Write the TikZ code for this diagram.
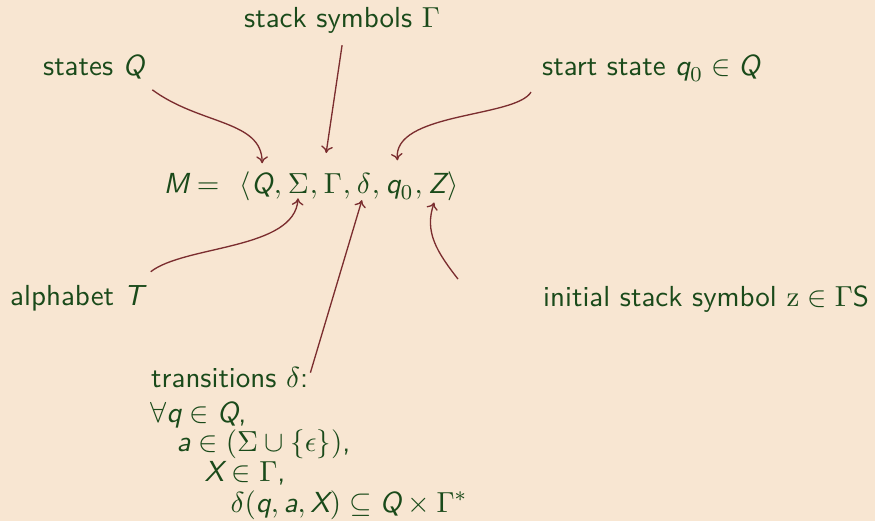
\documentclass[tikz,border=0pt]{standalone}
\usetikzlibrary{arrows.meta, calc}
\definecolor{parchment}{HTML}{F8E6D2}
\definecolor{forest}{HTML}{1A4A1A}
\definecolor{maroon}{HTML}{7B2D2F}
\newcommand{\sv}[1]{\textsf{\itshape #1}}

\begin{document}
\begin{tikzpicture}[
  x=0.01327cm, y=-0.01327cm,
  lbl/.style={text=forest, inner sep=1pt, anchor=base west, font=\sffamily\fontsize{10.95}{12}\selectfont},
  part/.style={lbl, inner sep=0pt},
  pt/.style={-{To[length=2.6pt, width=4.4pt]}, draw=maroon, line width=0.5pt}
]
  \fill[parchment] (0,0) rectangle (875,521);
  \useasboundingbox (0,0) rectangle (875,521);

  % labels round the tuple
  \node[lbl] (lblStack) at (241,27) {stack symbols $\Gamma$};
  \node[lbl] (lblStates) at (40,75) {states $\sv{Q}$};
  \node[lbl] (lblStart) at (539,75) {start state $\sv{q}_0 \in \sv{Q}$};
  \node[lbl] (lblAlpha) at (7,305) {alphabet $\sv{T}$};
  \node[lbl] (lblInit) at (540,306) {initial stack symbol $\mathrm{z} \in \Gamma$S};

  % the tuple, piece by piece
  \node[part] (lhs) at (163,193) {$\sv{M} = \hspace{0.4em}\langle$};
  \node[part] (eQ) at (lhs.base east) {$\sv{Q}$};
  \node[part] (c1) at (eQ.base east) {$,\,$};
  \node[part] (eS) at (c1.base east) {$\Sigma$};
  \node[part] (c2) at (eS.base east) {$,\,$};
  \node[part] (eG) at (c2.base east) {$\Gamma$};
  \node[part] (c3) at (eG.base east) {$,\,$};
  \node[part] (eD) at (c3.base east) {$\delta$};
  \node[part] (c4) at (eD.base east) {$,\,$};
  \node[part] (eq) at (c4.base east) {$\sv{q}_0$};
  \node[part] (c5) at (eq.base east) {$,\,$};
  \node[part] (eZ) at (c5.base east) {$\sv{Z}$};
  \node[part] (rhs) at (eZ.base east) {$\rangle$};

  % transition function
  \node[lbl] (lblTrans) at (148,387) {transitions $\delta$:};
  \node[part] (defForall) at (150,422) {$\forall \sv{q} \in \sv{Q}$,};
  \node[part] (defA) at (176,451) {$\sv{a} \in (\Sigma \cup \{\epsilon\})$,};
  \node[part] (defX) at (204,481) {$\sv{X} \in \Gamma$,};
  \node[part] (defDelta) at (230,512) {$\delta(\sv{q}, \sv{a}, \sv{X}) \subseteq \sv{Q} \times \Gamma^*$};

  % pointers
  \draw[pt, shorten >=3.2pt] ($(lblStates.south east)+(5,8)$) .. controls (200,125) and (262,120) .. (eQ.north);
  \draw[pt, shorten >=7.5pt] ($(lblStack.south)+(0,9)$) -- (eG.north west);
  \draw[pt, shorten >=7.2pt] ($(lblStart.south west)+(-8,7)$) .. controls (515,118) and (392,112) .. (eq.north);
  \draw[pt, shorten >=1.8pt] ($(lblAlpha.north east)+(4,-10)$) .. controls (185,245) and (295,250) .. (eS.south);
  \draw[pt, shorten >=2.6pt] ($(lblTrans.north east)+(-1,9)$) -- (eD.south);
  \draw[pt, shorten >=3.6pt] ($(lblInit.north west)+(-82,-3)$) .. controls (437,252) and (424,232) .. (eZ.south);
\end{tikzpicture}
\end{document}
